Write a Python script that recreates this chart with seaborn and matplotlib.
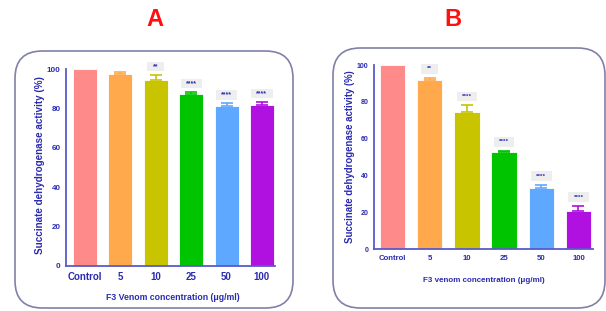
import matplotlib
matplotlib.use("Agg")
import matplotlib.pyplot as plt
from matplotlib.patches import FancyBboxPatch, Rectangle
import seaborn as sns
import numpy as np

categories = ["Control", "5", "10", "25", "50", "100"]
values_A = [100, 97.3, 94.4, 87.1, 81.4, 81.7]
errors_A = [0, 1.2, 2.7, 1.3, 1.2, 1.5]
stars_A = ["", "", "**", "****", "****", "****"]
values_B = [100, 91.7, 74.3, 52.7, 33.3, 20.7]
errors_B = [0, 1.4, 3.8, 0.7, 1.5, 2.7]
stars_B = ["", "**", "****", "****", "****", "****"]
colors = ["#FF8A8A", "#FFA84C", "#C8C400", "#00C400", "#5FA8FF", "#B010E0"]
yticks = [0, 20, 40, 60, 80, 100]

TXT = "#2B2BB0"
AX = "#5A5AC8"

sns.set_theme(style="white")
plt.rcParams["font.family"] = ["Liberation Sans", "DejaVu Sans"]

fig = plt.figure(figsize=(6.06, 3.11), dpi=100)
W, H = 606, 311

def fx(px):
    return px / W

def fy(py):
    return 1 - py / H

# rounded panel boxes
for (x0, y0, x1, y1) in [(15, 51, 293, 308), (333, 48, 605, 308)]:
    box = FancyBboxPatch((fx(x0), fy(y1)), fx(x1 - x0), (y1 - y0) / H,
                         boxstyle="round,pad=0,rounding_size=0.045",
                         transform=fig.transFigure, facecolor="none",
                         edgecolor="#8080A8", linewidth=1.2, mutation_aspect=W / H)
    fig.patches.append(box)

def panel(rect, vals, errs, stars, xlim, ytick_fs, xtick_fs, star_fs, gap, bh, bw2, bw4):
    ax = fig.add_axes(rect)
    sns.barplot(x=categories, y=vals, hue=categories, palette=colors, legend=False,
                width=0.68, saturation=1, ax=ax, edgecolor="white", linewidth=0.6)
    for i, (v, e, c) in enumerate(zip(vals, errs, colors)):
        if e > 0:
            ax.errorbar(i, v, yerr=[[0], [e]], color=c, capsize=4.3, elinewidth=1.2,
                        capthick=1.2, fmt="none")
        if stars[i]:
            bw = bw2 if len(stars[i]) == 2 else bw4
            y0 = v + e + gap
            ax.add_patch(Rectangle((i - bw / 2, y0), bw, bh, facecolor="#EEEEEE",
                                   edgecolor="none", clip_on=False, zorder=3))
            ax.text(i, y0 + bh * 0.5, stars[i], ha="center", va="center",
                    fontsize=star_fs, color=TXT, fontweight="bold", zorder=4)
    ax.set_ylim(0, 100)
    ax.set_xlim(*xlim)
    ax.set_yticks(yticks)
    ax.set_yticklabels([str(t) for t in yticks], fontsize=ytick_fs, fontweight="bold", color=TXT)
    ax.set_xticks(range(len(categories)))
    ax.set_xticklabels(categories, fontsize=xtick_fs, fontweight="bold", color=TXT)
    for s in ["top", "right"]:
        ax.spines[s].set_visible(False)
    for s in ["left", "bottom"]:
        ax.spines[s].set_color(AX)
        ax.spines[s].set_linewidth(1.3)
    ax.tick_params(axis="both", direction="out", length=3, width=1.1, color=AX, pad=1)
    ax.set_facecolor("none")
    return ax

axA = panel([fx(66), fy(266), fx(275 - 66), (266 - 69) / H], values_A, errors_A, stars_A,
            (-0.54, 5.37), 5.8, 7, 5, 1.9, 4.8, 0.48, 0.6)
axB = panel([fx(374), fy(249), fx(593 - 374), (249 - 65) / H], values_B, errors_B, stars_B,
            (-0.5, 5.39), 5, 5.6, 4.6, 2.2, 5.2, 0.46, 0.55)

fig.text(fx(40), fy(165), "Succinate dehydrogenase activity (%)", rotation=90,
         ha="center", va="center", fontsize=7.1, fontweight="bold", color=TXT)
fig.text(fx(173), fy(297), "F3 Venom concentration (\u03bcg/ml)", ha="center", va="center",
         fontsize=6.3, fontweight="bold", color=TXT)
fig.text(fx(350), fy(157), "Succinate dehydrogenase activity (%)", rotation=90,
         ha="center", va="center", fontsize=6.9, fontweight="bold", color=TXT)
fig.text(fx(484), fy(281), "F3 venom concentration (\u03bcg/ml)", ha="center", va="center",
         fontsize=5.8, fontweight="bold", color=TXT)

fig.text(fx(155), fy(20), "A", ha="center", va="center", fontsize=17, fontweight="bold", color="#FF1010")
fig.text(fx(453), fy(20), "B", ha="center", va="center", fontsize=17, fontweight="bold", color="#FF1010")

fig.savefig("out.png", dpi=100)
